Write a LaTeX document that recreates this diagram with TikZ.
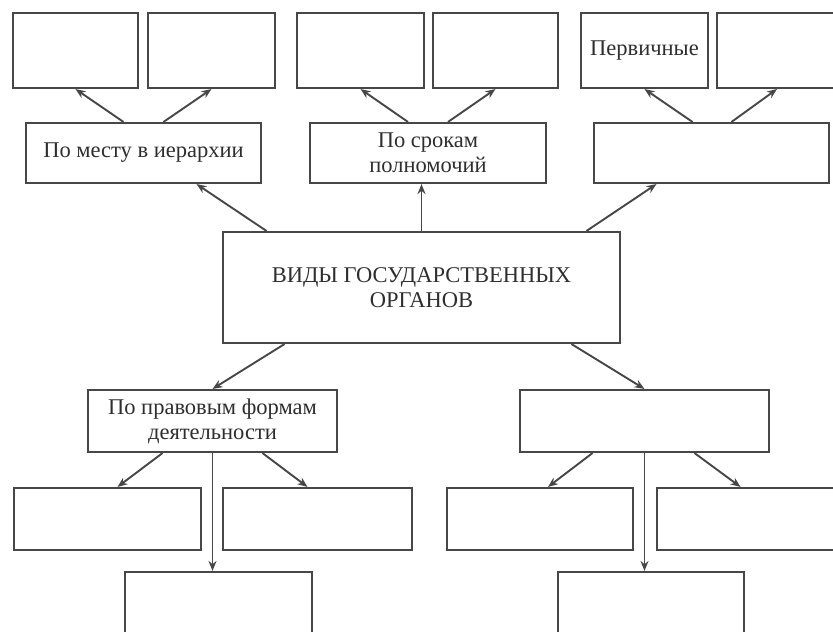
\documentclass[tikz,border=0pt]{standalone}
\usepackage{fontspec}
\setmainfont{Liberation Serif}
\usetikzlibrary{arrows.meta}

\tikzset{
    box/.style={draw=black!72, line width=2.1pt, inner sep=0pt, align=center,
        text=black!82, font=\fontsize{22.5}{25}\selectfont},
    link/.style={draw=black!72, line width=1.9pt, -{Stealth[length=10pt,width=8pt]}}
}

\begin{document}
\begin{tikzpicture}[x=1pt, y=-1pt]
                \useasboundingbox (0,0) rectangle (833,632);

                % top row
                \node (a1) [box, minimum width=125pt, minimum height=75pt] at (75.5,50.5) {};
                \node (a2) [box, minimum width=127pt, minimum height=75pt] at (211.5,50.5) {};
                \node (b1) [box, minimum width=127pt, minimum height=75pt] at (360.5,50.5) {};
                \node (b2) [box, minimum width=125pt, minimum height=75pt] at (495.5,50.5) {};
                \node (c1) [box, minimum width=127pt, minimum height=75pt] at (644.5,50.5) {Первичные};
                \node (c2) [box, minimum width=126pt, minimum height=75pt] at (780,50.5) {};

                % second row
                \node (mesto) [box, minimum width=235pt, minimum height=60pt] at (143.5,153) {По месту в иерархии};
                \node (sroki) [box, minimum width=236pt, minimum height=60pt] at (428,153) {По срокам\\полномочий};
                \node (prochie) [box, minimum width=235pt, minimum height=60pt] at (711.5,153) {};

                % centre
                \node (vidy) [box, minimum width=397pt, minimum height=111pt] at (421.5,287.5) {ВИДЫ ГОСУДАРСТВЕННЫХ\\ОРГАНОВ};

                % lower part
                \node (pravo) [box, minimum width=249pt, minimum height=62pt] at (212.5,421) {По правовым формам\\деятельности};
                \node (drugie) [box, minimum width=249pt, minimum height=62pt] at (644.5,421) {};

                \node (l1) [box, minimum width=187pt, minimum height=62pt] at (107.5,519) {};
                \node (l2) [box, minimum width=189pt, minimum height=62pt] at (317.5,519) {};
                \node (r1) [box, minimum width=186pt, minimum height=62pt] at (540,519) {};
                \node (r2) [box, minimum width=187pt, minimum height=62pt] at (750.5,519) {};

                \node (l3) [box, minimum width=187pt, minimum height=62pt] at (218.5,603) {};
                \node (r3) [box, minimum width=186pt, minimum height=62pt] at (651,603) {};

                % arrows from the centre
                \draw[link] ([xshift=-155pt]vidy.north) -- ([xshift=53pt]mesto.south);
                \draw[link] (vidy.north) -- (vidy.north |- sroki.south);
                \draw[link] ([xshift=165pt]vidy.north) -- ([xshift=-55pt]prochie.south);
                \draw[link] ([xshift=-137pt]vidy.south) -- (pravo.north);
                \draw[link] ([xshift=150pt]vidy.south) -- (drugie.north);

                % arrows up
                \draw[link] ([xshift=-20pt]mesto.north) -- (a1.south);
                \draw[link] ([xshift=20pt]mesto.north) -- (a2.south);
                \draw[link] ([xshift=-20pt]sroki.north) -- (b1.south);
                \draw[link] ([xshift=20pt]sroki.north) -- (b2.south);
                \draw[link] ([xshift=-19pt]prochie.north) -- (c1.south);
                \draw[link] ([xshift=20pt]prochie.north) -- ([xshift=-3pt]c2.south);

                % arrows down
                \draw[link] ([xshift=-50pt]pravo.south) -- ([xshift=10pt]l1.north);
                \draw[link] ([xshift=50pt]pravo.south) -- ([xshift=-10pt]l2.north);
                \draw[link] (pravo.south) -- (pravo.south |- l3.north);
                \draw[link] ([xshift=-52pt]drugie.south) -- ([xshift=8pt]r1.north);
                \draw[link] ([xshift=50pt]drugie.south) -- ([xshift=-10pt]r2.north);
                \draw[link] (drugie.south) -- (drugie.south |- r3.north);
            \end{tikzpicture}
\end{document}
